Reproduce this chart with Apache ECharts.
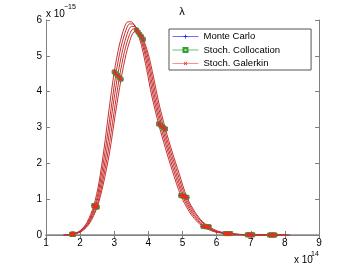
<!DOCTYPE html>
<html>
<head>
<meta charset="utf-8">
<script src="https://cdn.jsdelivr.net/npm/echarts@6/dist/echarts.min.js"></script>
<style>html,body{margin:0;padding:0;background:#fff}#c{width:352px;height:264px}</style>
</head>
<body>
<div id="c"></div>
<script>
// x in units of 1e14, y in units of 1e-15
const x0 = [1.5,1.75,2.0,2.2,2.4,2.55,2.7,2.85,3.0,3.15,3.3,3.4,3.5,3.65,3.8,3.95,4.1,4.3,4.5,4.7,4.95,5.2,5.4,5.6,5.9,6.25,6.55,6.9,7.2,7.55,8.0];
const y0 = [0,0.02,0.12,0.35,0.82,1.45,2.4,3.52,4.55,5.3,5.8,5.95,5.95,5.72,5.28,4.62,3.88,3.1,2.42,1.8,1.1,0.65,0.4,0.24,0.1,0.04,0.016,0.006,0.002,0,0];
const x1 = [1.52,1.77,2.02,2.22,2.43,2.58,2.74,2.9,3.05,3.2,3.35,3.45,3.55,3.7,3.85,4.0,4.15,4.35,4.55,4.75,5.0,5.25,5.45,5.65,5.94,6.29,6.59,6.94,7.24,7.59,8.04];
const y1 = [0,0.02,0.12,0.35,0.81,1.44,2.38,3.48,4.5,5.25,5.74,5.89,5.89,5.66,5.23,4.57,3.84,3.07,2.4,1.78,1.09,0.64,0.4,0.24,0.1,0.04,0.016,0.006,0.002,0,0];
const x2 = [1.53,1.78,2.03,2.24,2.45,2.61,2.78,2.94,3.1,3.25,3.4,3.5,3.6,3.75,3.9,4.05,4.2,4.4,4.6,4.8,5.04,5.29,5.49,5.69,5.98,6.33,6.63,6.98,7.28,7.63,8.08];
const y2 = [0,0.02,0.12,0.34,0.8,1.42,2.35,3.44,4.45,5.18,5.67,5.82,5.82,5.59,5.16,4.52,3.79,3.03,2.37,1.76,1.08,0.64,0.39,0.23,0.1,0.04,0.016,0.006,0.002,0,0];
const x3 = [1.55,1.8,2.05,2.26,2.48,2.64,2.82,2.99,3.15,3.3,3.45,3.55,3.65,3.8,3.95,4.1,4.25,4.45,4.65,4.85,5.09,5.34,5.54,5.74,6.02,6.37,6.67,7.02,7.32,7.67,8.12];
const y3 = [0,0.02,0.12,0.34,0.79,1.4,2.32,3.4,4.4,5.12,5.6,5.75,5.75,5.53,5.1,4.46,3.75,2.99,2.34,1.74,1.06,0.63,0.39,0.23,0.1,0.04,0.015,0.006,0.002,0,0];
const x4 = [1.56,1.81,2.06,2.28,2.5,2.67,2.86,3.03,3.2,3.35,3.5,3.6,3.7,3.85,4.0,4.15,4.3,4.5,4.7,4.9,5.13,5.38,5.58,5.78,6.06,6.41,6.71,7.06,7.36,7.71,8.16];
const y4 = [0,0.02,0.11,0.33,0.78,1.38,2.29,3.36,4.35,5.06,5.54,5.68,5.68,5.46,5.04,4.41,3.71,2.96,2.31,1.72,1.05,0.62,0.38,0.23,0.1,0.04,0.015,0.006,0.002,0,0];
const markerIdx = [1,4,8,13,17,20,23,25,27,29];
const methodNames = ['Monte Carlo','Stoch. Collocation','Stoch. Galerkin'];
const xTicks = [1,2,3,4,5,6,7,8,9];
const yTicks = [0,1,2,3,4,5,6];

const FONT = 'Liberation Sans, Arial, sans-serif';
const plus = 'path://M4,0H6V4H10V6H6V10H4V6H0V4H4Z';
const styles = [
  {symbol: plus, rotate: 0, size: 5, line: '#0000ff', lineOp: 0, legendLine: '#7070ff', item: {color: '#2020ff'}},
  {symbol: 'rect', rotate: 0, size: 4, line: '#00a000', lineOp: 0, legendLine: '#70c070', item: {color: 'rgba(0,0,0,0)', borderColor: '#30a030', borderWidth: 1}},
  {symbol: plus, rotate: 45, size: 5, line: '#c62e2e', lineOp: 1, legendLine: '#ff9090', item: {color: '#ff2020'}}
];
const curves = [[x0,y0],[x1,y1],[x2,y2],[x3,y3],[x4,y4]];
const series = [];
methodNames.forEach((name, m) => {
  const st = styles[m];
  curves.forEach(([xs, ys]) => {
    series.push({
      type: 'line', name: name,
      xAxisIndex: 0, yAxisIndex: 0,
      smooth: 0.3,
      showSymbol: true, showAllSymbol: true,
      symbol: st.symbol, symbolSize: st.size, symbolRotate: st.rotate,
      lineStyle: {color: st.line, width: 1, opacity: st.lineOp},
      itemStyle: st.item,
      data: xs.map((x, i) => markerIdx.includes(i) ? [x, ys[i]] : {value: [x, ys[i]], symbol: 'none'}),
      animation: false, silent: true
    });
  });
});

const axisCommon = {
  min: 1, max: 9, interval: 1, type: 'value',
  axisLine: {show: true, lineStyle: {color: '#808080', width: 1}},
  axisTick: {show: true, inside: true, length: 4, lineStyle: {color: '#808080'}},
  splitLine: {show: false}
};
const chart = echarts.init(document.getElementById('c'), null, {renderer: 'canvas'});
chart.setOption({
  animation: false,
  backgroundColor: '#fff',
  grid: {left: 46, right: 33, top: 20, bottom: 29},
  xAxis: [
    Object.assign({}, axisCommon, {position: 'bottom',
      axisLine: {show: true, lineStyle: {color: '#8c8c8c', width: 1.6}},
      axisLabel: {show: true, color: '#000', fontSize: 10, fontFamily: FONT, margin: 3,
        formatter: v => xTicks.includes(v) ? String(v) : ''}}),
    Object.assign({}, axisCommon, {position: 'top', axisLabel: {show: false}})
  ],
  yAxis: [
    Object.assign({}, axisCommon, {min: 0, max: 6, position: 'left',
      axisLabel: {show: true, color: '#000', fontSize: 10, fontFamily: FONT, margin: 4,
        formatter: v => yTicks.includes(v) ? String(v) : ''}}),
    Object.assign({}, axisCommon, {min: 0, max: 6, position: 'right', axisLabel: {show: false}})
  ],
  legend: {
    data: methodNames.map((n, m) => ({name: n, lineStyle: {color: styles[m].legendLine, width: 1, opacity: 1}})),
    orient: 'vertical', left: 169, top: 29,
    padding: [1, 31, 0, 3],
    itemWidth: 26, itemHeight: 5, itemGap: 0.5,
    borderColor: '#555', borderWidth: 1, backgroundColor: '#fff',
    textStyle: {color: '#000', fontSize: 9.5, fontFamily: FONT, lineHeight: 13},
    selectedMode: false
  },
  graphic: [
    {type: 'text', x: 182, y: 12, style: {text: 'λ', fill: '#000', font: '11px ' + FONT, textAlign: 'center', textVerticalAlign: 'middle'}},
    {type: 'text', x: 46, y: 14, style: {text: 'x 10', fill: '#000', font: '10px ' + FONT, textAlign: 'left', textVerticalAlign: 'middle'}},
    {type: 'text', x: 64, y: 7, style: {text: '−15', fill: '#000', font: '7px ' + FONT, textAlign: 'left', textVerticalAlign: 'middle'}},
    {type: 'text', x: 294, y: 260, style: {text: 'x 10', fill: '#000', font: '10px ' + FONT, textAlign: 'left', textVerticalAlign: 'middle'}},
    {type: 'text', x: 311, y: 254, style: {text: '14', fill: '#000', font: '7px ' + FONT, textAlign: 'left', textVerticalAlign: 'middle'}}
  ],
  series: series
});
</script>
</body>
</html>
